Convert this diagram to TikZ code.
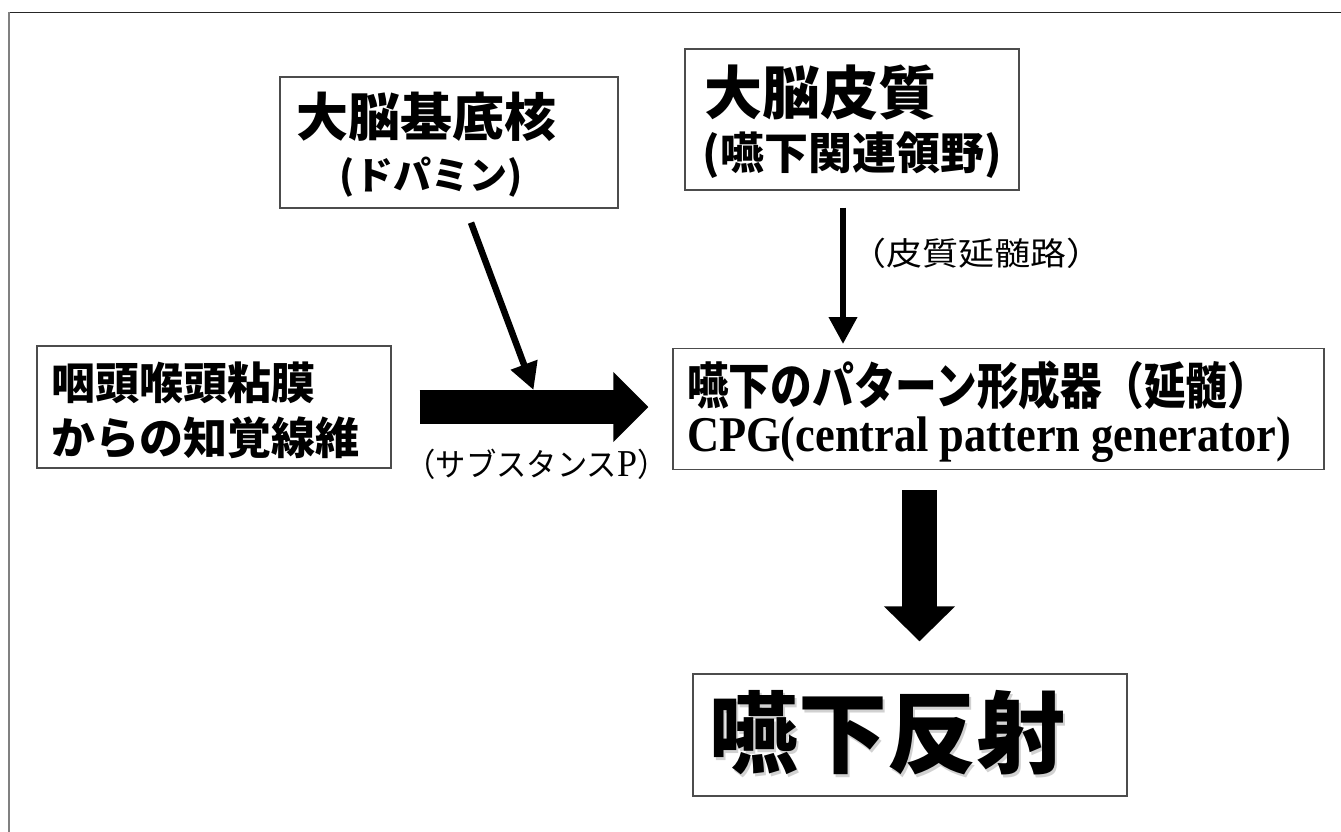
\documentclass[tikz,border=0pt]{standalone}
\usepackage{fontspec}
\usepackage{graphicx}
\setmainfont{Liberation Serif}
\newfontfamily\cjk{Noto Sans CJK JP}
\usetikzlibrary{arrows.meta,calc}
\begin{document}
\begin{tikzpicture}[x=1pt,y=-1pt,
  box/.style={draw=black!70, line width=1.3pt, inner sep=0pt},
  slimarrow/.style={line width=6.5pt, -{Triangle[length=27pt,width=27pt]}},
  fatarrow/.style={line width=34pt, -{Triangle[length=35pt,width=68pt]}},
  txt/.style={inner sep=0pt}]
\useasboundingbox (0,0) rectangle (1341,832);
\fill[white] (0,0) rectangle (1341,832);
% outer frame
\draw[black!85, line width=1.5pt] (8,12.5) -- (1341,12.5);
\draw[black!50, line width=2pt] (9,12.5) -- (9,832);
% boxes
\node[box, minimum width=338pt, minimum height=131pt] (bg) at (449,142.5) {};
\node[box, minimum width=334pt, minimum height=141pt] (cx) at (852,119.5) {};
\node[box, minimum width=354pt, minimum height=122pt] (lb) at (214,407) {};
\node[box, minimum width=651pt, minimum height=121.5pt] (cpg) at (998.5,409) {};
\node[box, minimum width=434pt, minimum height=122pt] (rf) at (910,735) {};
% texts
\node[txt, font=\cjk\bfseries\fontsize{52}{60}\selectfont] (bg1) at (426,117) {大脳基底核};
\node[txt, font=\cjk\bfseries\fontsize{38}{46}\selectfont] (bg2) at (431,177) {(ドパミン)};
\node[txt, font=\cjk\bfseries\fontsize{58}{66}\selectfont] (cx1) at (820,93) {大脳皮質};
\node[txt, font=\cjk\bfseries\fontsize{44}{52}\selectfont] (cx2) at (852,155) {(嚥下関連領野)};
\node[txt, anchor=west, font=\cjk\bfseries\fontsize{44}{52}\selectfont] (lb1) at (51,383) {咽頭喉頭粘膜};
\node[txt, anchor=west, font=\cjk\bfseries\fontsize{44}{52}\selectfont] (lb2) at (51,438) {からの知覚線維};
\node[txt, anchor=west] (cpg1) at (687,385) {\resizebox{582pt}{\height}{\cjk\bfseries\fontsize{50}{60}\selectfont 嚥下のパターン形成器（延髄）}};
\node[txt, anchor=west] (cpg2) at (687,440) {\resizebox{604pt}{\height}{\bfseries\fontsize{50}{60}\selectfont CPG(central pattern generator)}};
\node[txt] (lab1) at (976,253) {\resizebox{252pt}{\height}{\cjk\fontsize{32}{38}\selectfont （皮質延髄路）}};
\node[txt] (lab2) at (536.5,464) {\resizebox{262pt}{\height}{\cjk\fontsize{32}{38}\selectfont （サブスタンス{\rmfamily\fontsize{38}{40}\selectfont P}）}};
\node[txt, text=black!18, font=\cjk\bfseries\fontsize{89}{100}\selectfont] (rfs) at (889.5,735.5) {嚥下反射};
\node[txt, font=\cjk\bfseries\fontsize{89}{100}\selectfont] (rft) at (887.5,733) {嚥下反射};
% connectors
\draw[fatarrow, shorten <=28pt, shorten >=24pt] (lb.east) -- (lb.east -| cpg.west);
\coordinate (dj) at (533.5,390);
\draw[slimarrow] ($(bg.south)+(22,14)$) -- (dj);
\coordinate (ca) at (843,0);
\draw[slimarrow, shorten <=17pt, shorten >=3.5pt] (ca |- cx.south) -- (ca |- cpg.north);
\coordinate (da) at ($(rf.north)+(9.5,0)$);
\draw[line width=35pt, -{Triangle[length=35pt,width=69pt]}, shorten <=20pt, shorten >=32pt] (da |- cpg.south) -- (da);
\end{tikzpicture}
\end{document}
